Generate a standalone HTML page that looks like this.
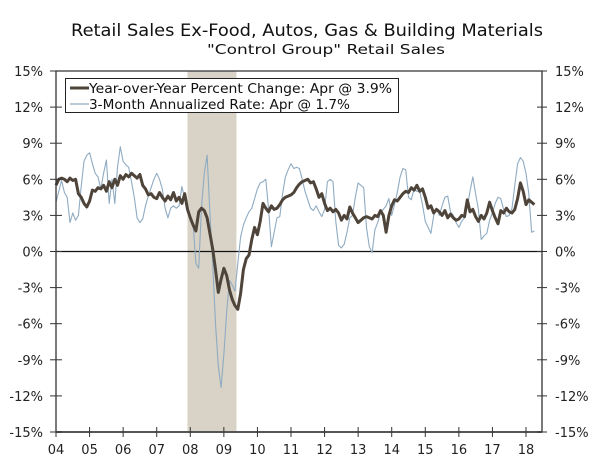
<!DOCTYPE html>
<html><head><meta charset="utf-8"><style>
html,body{margin:0;padding:0;background:#fff;}
svg{display:block;font-family:"DejaVu Sans","Liberation Sans",sans-serif;}
</style></head><body>
<svg id="chart" width="600" height="464" viewBox="0 0 600 464">
<text x="307" y="36" font-size="17" text-anchor="middle" fill="#111" textLength="472" lengthAdjust="spacingAndGlyphs">Retail Sales Ex-Food, Autos, Gas &amp; Building Materials</text>
<text x="326" y="54" font-size="13" text-anchor="middle" fill="#111" textLength="238" lengthAdjust="spacingAndGlyphs">"Control Group" Retail Sales</text>
<g id="plot"></g>
</svg>
<script>
const years = ["04","05","06","07","08","09","10","11","12","13","14","15","16","17","18"];
const yTicks = [15,12,9,6,3,0,-3,-6,-9,-12,-15];
const recessionStart = 47; // month index (Dec 2007)
const recessionEnd = 64.5;
const yoy = [
5.5,6.0,6.1,6.0,5.8,6.1,5.9,6.0,4.8,4.5,4.0,3.7,
4.2,5.1,5.0,5.3,5.2,5.5,5.0,5.8,5.3,6.0,5.5,6.3,
6.0,6.4,6.2,6.5,6.3,6.1,6.4,5.5,5.2,4.7,4.8,4.5,
4.4,4.9,4.5,4.2,4.6,4.3,4.9,4.2,4.5,4.0,4.8,3.5,
2.8,2.2,1.7,3.3,3.6,3.4,2.8,1.5,0.2,-1.5,-3.4,-2.3,
-1.4,-2.0,-3.2,-4.0,-4.5,-4.8,-3.5,-1.5,-0.6,-0.3,1.0,2.0,
1.4,2.5,4.0,3.6,3.3,3.8,3.5,3.6,3.9,4.3,4.5,4.6,
4.7,4.9,5.3,5.6,5.8,5.9,6.0,5.7,5.8,5.2,4.5,4.8,
4.0,3.4,3.6,3.3,3.5,3.2,2.6,3.0,2.7,3.7,3.2,2.8,
2.4,2.6,2.8,2.9,2.8,2.7,3.0,2.9,3.4,3.0,1.6,3.0,
3.8,4.3,4.2,4.5,4.8,5.0,4.9,5.3,5.1,5.5,5.0,5.2,
4.5,3.6,3.8,3.2,3.5,3.3,3.0,3.4,2.8,3.1,2.8,2.6,
2.7,3.0,2.9,4.3,3.3,3.5,2.9,2.5,3.0,2.7,3.2,4.1,
3.4,2.8,2.3,3.4,3.2,3.6,3.3,3.2,3.5,4.4,5.7,5.0,
3.9,4.3,4.1,3.9];
const ann3m = [
4.1,5.0,5.9,4.9,4.5,2.4,3.2,2.6,3.0,5.4,7.5,8.0,
8.2,7.3,6.5,6.2,5.2,6.5,7.6,4.0,6.0,4.0,7.0,8.7,
7.5,7.2,7.0,5.8,4.5,2.8,2.4,2.7,3.8,4.6,5.3,6.0,
6.5,6.0,5.2,3.6,2.8,3.6,3.8,3.6,3.8,5.4,4.4,4.0,
2.5,2.3,-1.0,-1.4,3.7,6.5,8.0,3.2,-1.0,-6.0,-9.5,-11.3,
-8.5,-5.0,-2.4,-2.8,-3.3,-1.0,1.2,2.2,2.8,3.3,3.6,4.4,
5.2,5.7,5.8,6.0,3.5,0.4,1.6,2.8,2.9,4.8,6.2,6.8,
7.3,6.9,7.0,6.9,6.0,5.0,4.3,3.6,3.4,3.8,3.3,2.9,
3.5,5.8,6.0,5.8,2.5,0.5,0.3,0.6,1.6,2.8,3.0,4.5,
5.7,5.5,5.3,2.0,0.4,-0.1,1.8,2.4,3.2,3.5,3.8,4.4,
3.0,3.9,4.9,6.2,6.9,6.8,4.5,4.3,5.2,5.0,5.0,3.9,
2.5,2.0,1.5,3.0,3.6,3.0,3.8,4.5,4.6,3.3,3.0,2.4,
2.0,2.5,2.8,3.7,5.0,6.2,4.8,3.5,1.0,1.3,1.5,2.6,
3.2,4.0,4.5,4.4,3.5,2.9,3.0,3.6,5.5,7.3,7.8,7.5,
6.5,4.8,1.6,1.7];

const L=56,R=542,T=71,B=432;
const monthW=(526-L)/168;
function xs(m){return L+m*monthW;}
function ys(v){return T+(15-v)*(B-T)/30;}
const NS="http://www.w3.org/2000/svg";
const g=document.getElementById('plot');
function mk(tag,attrs,parent){const e=document.createElementNS(NS,tag);for(const k in attrs)e.setAttribute(k,attrs[k]);(parent||g).appendChild(e);return e;}

const rec=mk('rect',{x:xs(recessionStart),y:T,width:xs(recessionEnd)-xs(recessionStart),height:B-T,fill:'#d8d3c6'});



const zl=mk('line',{x1:L,x2:R,y1:ys(0),y2:ys(0),stroke:'#111','stroke-width':1.2});



function path(arr){return arr.map((v,i)=>(i?'L':'M')+xs(i).toFixed(1)+','+ys(v).toFixed(1)).join('');}
const p2=mk('path',{d:path(ann3m),fill:'none',stroke:'#8fabc2','stroke-width':1.1,'stroke-linejoin':'round'});


const p1=mk('path',{d:path(yoy),fill:'none',stroke:'#4f4439','stroke-width':3,'stroke-linejoin':'round'});



// axes frame
const fr=mk('path',{d:`M${L},${T}H${R}V${B}H${L}Z`,fill:'none',stroke:'#333','stroke-width':1.3});


mk('line',{x1:L,x2:R,y1:B,y2:B,stroke:'#555','stroke-width':2});

yTicks.forEach(v=>{
  const y=ys(v);
  mk('line',{x1:L-6,x2:L+6,y1:y,y2:y,stroke:'#333','stroke-width':1});
  mk('line',{x1:R-5,x2:R+5,y1:y,y2:y,stroke:'#333','stroke-width':1});
  const t1=mk('text',{x:43,y:y+5,'font-size':13,'text-anchor':'end',fill:'#222'});
  t1.textContent=v+'%';
  
  
  const t2=mk('text',{x:555,y:y+5,'font-size':13,fill:'#222'});
  t2.textContent=v+'%';
  
  
});
years.forEach((yr,i)=>{
  const x=xs(i*12);
  mk('line',{x1:x,x2:x,y1:B-5,y2:B+5,stroke:'#333','stroke-width':1});
  const t=mk('text',{x:x,y:454,'font-size':13,'text-anchor':'middle',fill:'#222'});
  t.textContent=yr;
  
  
});

// legend
const lg=mk('g',{});


mk('rect',{x:65.5,y:78.5,width:333,height:34,fill:'#fff',stroke:'#222','stroke-width':1},lg);
mk('line',{x1:70,x2:89,y1:88,y2:88,stroke:'#4f4439','stroke-width':3},lg);
mk('line',{x1:70,x2:89,y1:104,y2:104,stroke:'#8fabc2','stroke-width':1.2},lg);
const l1=mk('text',{x:89,y:93,'font-size':13,fill:'#111',textLength:303,lengthAdjust:'spacingAndGlyphs'},lg);
l1.textContent='Year-over-Year Percent Change: Apr @ 3.9%';


const l2=mk('text',{x:89,y:109,'font-size':13,fill:'#111',textLength:261,lengthAdjust:'spacingAndGlyphs'},lg);
l2.textContent='3-Month Annualized Rate: Apr @ 1.7%';


</script>
</body></html>
